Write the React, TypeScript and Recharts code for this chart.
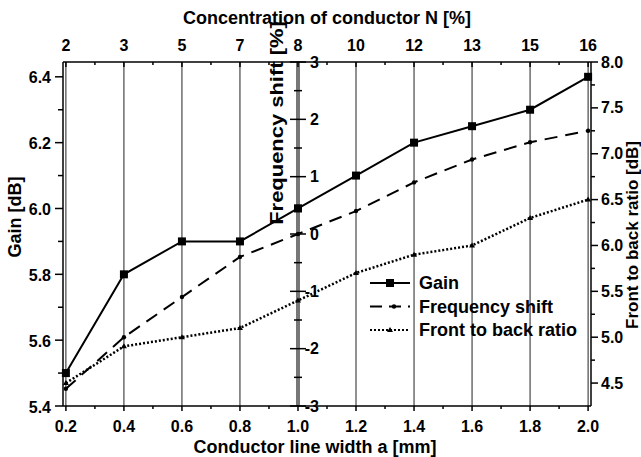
import {
  ComposedChart,
  Line,
  XAxis,
  YAxis,
  CartesianGrid,
  ReferenceLine,
  ReferenceDot,
  Legend,
  Label,
} from 'recharts'

const widths = [0.2, 0.4, 0.6, 0.8, 1.0, 1.2, 1.4, 1.6, 1.8, 2.0]
const concentration = [2, 3, 5, 7, 8, 10, 12, 13, 15, 16]
const gain = [5.5, 5.8, 5.9, 5.9, 6.0, 6.1, 6.2, 6.25, 6.3, 6.4]
const freqShift = [-2.7, -1.8, -1.1, -0.4, 0, 0.4, 0.9, 1.3, 1.6, 1.8]
const frontToBack = [4.5, 4.9, 5.0, 5.1, 5.4, 5.7, 5.9, 6.0, 6.3, 6.5]

const widthTicks = [0.2, 0.3, 0.4, 0.5, 0.6, 0.7, 0.8, 0.9, 1.0, 1.1, 1.2, 1.3, 1.4, 1.5, 1.6, 1.7, 1.8, 1.9, 2.0]
const gainTicks = [5.4, 5.5, 5.6, 5.7, 5.8, 5.9, 6.0, 6.1, 6.2, 6.3, 6.4]
const gainGrid = [5.6, 5.8, 6.0, 6.2, 6.4]
const freqTicks = [-3, -2.5, -2, -1.5, -1, -0.5, 0, 0.5, 1, 1.5, 2, 2.5, 3]
const ratioTicks = [4.5, 4.75, 5.0, 5.25, 5.5, 5.75, 6.0, 6.25, 6.5, 6.75, 7.0, 7.25, 7.5, 7.75, 8.0]

const X_MIN = 0.19
const X_MAX = 2.01

const data = widths.map((w, i) => ({
  w,
  gain: gain[i],
  fs: freqShift[i],
  fb: frontToBack[i],
}))

const FONT = '"Liberation Sans", Arial, sans-serif'

const isMajor = (v: number, per: number) => Math.round(v * per) % 2 === 0

const tickText = {
  fontSize: 16,
  fontWeight: 'bold' as const,
  fontFamily: FONT,
  fill: '#000',
  dominantBaseline: 'central' as const,
}

function BottomTick({ x, y, payload }: any) {
  const major = isMajor(payload.value, 10)
  return (
    <g>
      <line x1={x} x2={x} y1={y} y2={y + (major ? 5 : 3)} stroke="#000" strokeWidth={1.5} />
      {major && (
        <text x={x} y={y + 20} textAnchor="middle" {...tickText}>
          {payload.value.toFixed(1)}
        </text>
      )}
    </g>
  )
}

function TopTick({ x, y, payload }: any) {
  const major = isMajor(payload.value, 10)
  const idx = widths.findIndex((w) => Math.abs(w - payload.value) < 1e-6)
  return (
    <g>
      <line x1={x} x2={x} y1={y} y2={y + (major ? 5 : 3)} stroke="#000" strokeWidth={1.5} />
      {major && idx >= 0 && (
        <text x={x} y={y - 17} textAnchor="middle" {...tickText}>
          {concentration[idx]}
        </text>
      )}
    </g>
  )
}

function RatioTick({ x, y, payload }: any) {
  const major = isMajor(payload.value, 4)
  return (
    <g>
      <line x1={x} x2={x + (major ? 7 : 4)} y1={y} y2={y} stroke="#000" strokeWidth={1.5} />
      {major && (
        <text x={x + 10} y={y} textAnchor="start" {...tickText}>
          {payload.value.toFixed(1)}
        </text>
      )}
    </g>
  )
}

// left gain axis ticks, drawn at the left edge of the plot
function gainTick(value: number) {
  const major = isMajor(value, 10)
  return ({ cx, cy }: any) => (
    <g>
      <line x1={cx - (major ? 8 : 5)} x2={cx} y1={cy} y2={cy} stroke="#000" strokeWidth={1.5} />
      {major && (
        <text x={cx - 12} y={cy + 1} textAnchor="end" {...tickText}>
          {value.toFixed(1)}
        </text>
      )}
    </g>
  )
}

// frequency shift axis sits in the middle of the plot at w = 1.0
function freqTick(value: number) {
  const major = isMajor(value, 2)
  return ({ cx, cy }: any) => (
    <g>
      <line x1={cx - (major ? 8 : 4)} x2={cx + (major ? 8 : 4)} y1={cy} y2={cy} stroke="#000" strokeWidth={1.5} />
      {major && (
        <text x={cx + 21} y={cy} textAnchor="end" {...tickText}>
          {value}
        </text>
      )}
    </g>
  )
}

const squareDot = (p: any) => (
  <rect key={`sq-${p.index}`} x={p.cx - 4} y={p.cy - 4} width={8} height={8} fill="#000" />
)
const circleDot = (p: any) => <circle key={`ci-${p.index}`} cx={p.cx} cy={p.cy} r={2.2} fill="#000" />
const triDot = (p: any) => (
  <polygon
    key={`tr-${p.index}`}
    points={`${p.cx},${p.cy - 3} ${p.cx - 3},${p.cy + 2} ${p.cx + 3},${p.cy + 2}`}
    fill="#000"
  />
)

const titleStyle = { fontSize: 18, fontWeight: 'bold' as const, fontFamily: FONT, fill: '#000' }

function LegendBox() {
  const rows = [
    { name: 'Gain', dash: undefined, marker: 'square' },
    { name: 'Frequency shift', dash: '12 7', marker: 'circle' },
    { name: 'Front to back ratio', dash: '2 2', marker: 'tri' },
  ]
  return (
    <svg width={230} height={72}>
      {rows.map((r, i) => {
        const cy = 12 + i * 23.5
        return (
          <g key={r.name}>
            <line x1={2} x2={42} y1={cy} y2={cy} stroke="#000" strokeWidth={2} strokeDasharray={r.dash} />
            {r.marker === 'square' && <rect x={18} y={cy - 4} width={8} height={8} fill="#000" />}
            {r.marker === 'circle' && <circle cx={26} cy={cy} r={2.2} fill="#000" />}
            {r.marker === 'tri' && <polygon points={`22,${cy - 3} 19,${cy + 2} 25,${cy + 2}`} fill="#000" />}
            <text x={51} y={cy} dominantBaseline="central" {...titleStyle}>
              {r.name}
            </text>
          </g>
        )
      })}
    </svg>
  )
}

export default function App() {
  return (
    <div style={{ position: 'absolute', left: 0, top: 0 }}>
      <ComposedChart
        width={641}
        height={457}
        data={data}
        margin={{ top: 0, right: 0, bottom: 0, left: 0 }}
        style={{ fontFamily: FONT }}
      >
        <CartesianGrid
          xAxisId="bottom"
          yAxisId="gain"
          verticalValues={widths}
          horizontalValues={gainGrid}
          stroke="#222"
          strokeWidth={1}
        />
        <XAxis
          xAxisId="bottom"
          dataKey="w"
          type="number"
          domain={[X_MIN, X_MAX]}
          ticks={widthTicks}
          interval={0}
          height={51}
          tickSize={0}
          tickMargin={0}
          tickLine={false}
          tick={(p: any) => <BottomTick {...p} />}
          axisLine={{ stroke: '#000', strokeWidth: 1.5 }}
          label={
            <Label
              content={({ viewBox }: any) => (
                <text x={viewBox.x + viewBox.width / 2 - 12} y={viewBox.y + 41} textAnchor="middle" dominantBaseline="central" {...titleStyle}>
                  Conductor line width a [mm]
                </text>
              )}
            />
          }
        />
        <XAxis
          xAxisId="top"
          orientation="top"
          dataKey="w"
          type="number"
          domain={[X_MIN, X_MAX]}
          ticks={widthTicks}
          interval={0}
          height={62}
          tickSize={0}
          tickMargin={0}
          tickLine={false}
          tick={(p: any) => <TopTick {...p} />}
          axisLine={{ stroke: '#000', strokeWidth: 1.5 }}
          label={
            <Label
              content={({ viewBox }: any) => (
                <text x={viewBox.x + viewBox.width / 2} y={18} textAnchor="middle" dominantBaseline="central" {...titleStyle}>
                  Concentration of conductor N [%]
                </text>
              )}
            />
          }
        />
        <YAxis
          yAxisId="gain"
          type="number"
          domain={[5.4, 6.445]}
          ticks={gainTicks}
          interval={0}
          width={63}
          tick={false}
          tickLine={false}
          axisLine={false}
          label={
            <Label
              content={() => (
                <text transform="translate(15,217) rotate(-90)" textAnchor="middle" dominantBaseline="central" {...titleStyle}>
                  Gain [dB]
                </text>
              )}
            />
          }
        />
        <YAxis yAxisId="fs" type="number" domain={[-3, 3]} width={0} hide />
        <YAxis
          yAxisId="fb"
          orientation="right"
          type="number"
          domain={[4.25, 8]}
          ticks={ratioTicks}
          interval={0}
          width={50}
          tickSize={0}
          tickMargin={0}
          tickLine={false}
          tick={(p: any) => <RatioTick {...p} />}
          axisLine={{ stroke: '#000', strokeWidth: 1.5 }}
          label={
            <Label
              content={({ viewBox }: any) => (
                <text
                  transform={`translate(${viewBox.x + 41},235) rotate(-90)`}
                  textAnchor="middle"
                  dominantBaseline="central"
                  {...titleStyle}
                  fontSize={17}
                >
                  Front to back ratio [dB]
                </text>
              )}
            />
          }
        />

        {/* left frame + gain ticks */}
        <ReferenceLine xAxisId="bottom" yAxisId="gain" x={X_MIN} stroke="#000" strokeWidth={1.5} />
        {gainTicks.map((v) => (
          <ReferenceDot
            key={`gt-${v}`}
            xAxisId="bottom"
            yAxisId="gain"
            x={X_MIN}
            y={v}
            ifOverflow="visible"
            shape={gainTick(v)}
          />
        ))}

        <ReferenceLine
          xAxisId="bottom"
          yAxisId="fs"
          x={1.0}
          stroke="#777"
          strokeWidth={4}
          label={
            <Label
              content={({ viewBox }: any) => (
                <text
                  transform={`translate(${viewBox.x - 21},123) rotate(-90) scale(1.22,1)`}
                  textAnchor="middle"
                  dominantBaseline="central"
                  {...titleStyle}
                >
                  Frequency shift [%]
                </text>
              )}
            />
          }
        />
        {freqTicks.map((v) => (
          <ReferenceDot
            key={`ft-${v}`}
            xAxisId="bottom"
            yAxisId="fs"
            x={1.0}
            y={v}
            ifOverflow="visible"
            shape={freqTick(v)}
          />
        ))}

        <Line
          xAxisId="bottom"
          yAxisId="gain"
          dataKey="gain"
          name="Gain"
          stroke="#000"
          strokeWidth={2}
          dot={squareDot}
          activeDot={false}
          isAnimationActive={false}
        />
        <Line
          xAxisId="bottom"
          yAxisId="fs"
          dataKey="fs"
          name="Frequency shift"
          stroke="#000"
          strokeWidth={2}
          strokeDasharray="13 8"
          dot={circleDot}
          activeDot={false}
          isAnimationActive={false}
        />
        <Line
          xAxisId="bottom"
          yAxisId="fb"
          dataKey="fb"
          name="Front to back ratio"
          stroke="#000"
          strokeWidth={2.5}
          strokeDasharray="2 2"
          dot={triDot}
          activeDot={false}
          isAnimationActive={false}
        />

        <Legend
          layout="vertical"
          align="center"
          verticalAlign="middle"
          wrapperStyle={{ left: 368, top: 271, width: 230 }}
          content={() => <LegendBox />}
        />
      </ComposedChart>
    </div>
  )
}
